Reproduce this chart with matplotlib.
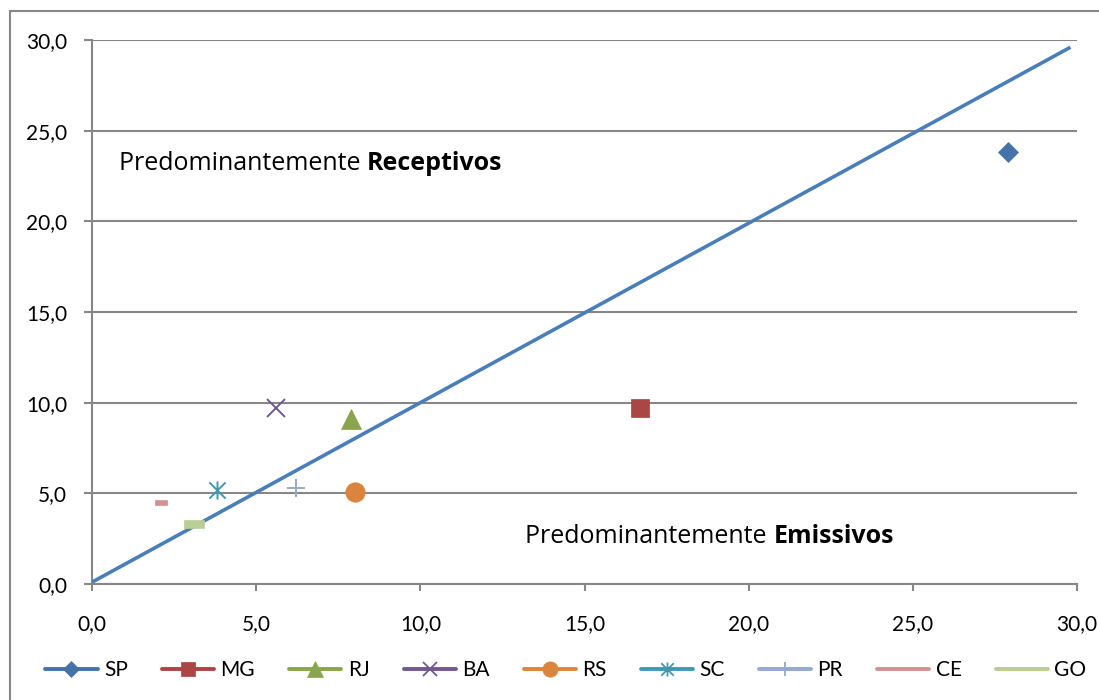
import matplotlib
matplotlib.use("Agg")
import matplotlib.pyplot as plt
from matplotlib.lines import Line2D
from matplotlib.path import Path
from matplotlib.patches import Rectangle
from matplotlib.ticker import MultipleLocator, FuncFormatter

plt.rcParams["font.family"] = ["Lato", "DejaVu Sans"]

# Estados: (x, y)
estados = ["SP", "MG", "RJ", "BA", "RS", "SC", "PR", "CE", "GO"]
x_vals = [27.9, 16.7, 7.9, 5.6, 8.0, 3.8, 6.2, 2.1, 3.1]
y_vals = [23.8, 9.7, 9.1, 9.7, 5.1, 5.2, 5.3, 4.5, 3.3]

# Linha de referencia (x = y)
linha_x = [0.0, 29.8]
linha_y = [0.1, 29.6]

cores = ["#4572A7", "#AA4643", "#89A54E", "#71588F", "#DB843D",
         "#4198AF", "#93A9CF", "#D19392", "#B9CD96"]

# asterisco: vertical + X
asterisco = Path([(0, -1), (0, 1), (-0.9, -0.9), (0.9, 0.9), (-0.9, 0.9), (0.9, -0.9)],
                 [Path.MOVETO, Path.LINETO, Path.MOVETO, Path.LINETO, Path.MOVETO, Path.LINETO])
traco = [(-1, -0.4), (1, -0.4), (1, 0.4), (-1, 0.4), (-1, -0.4)]

marcadores = ["D", "s", "^", "x", "o", asterisco, "+", traco, traco]
tamanhos = [10, 13.5, 14, 12.5, 14, 13, 12.5, 9, 15]
tam_leg = [8, 10.5, 11, 9.5, 11, 10, 9.5, 0, 0]
preenchidos = [True, True, True, False, True, False, False, True, True]

fig = plt.figure(figsize=(10.99, 7.0), dpi=100)
ax = fig.add_axes([92 / 1099, 1 - 584 / 700, (1077 - 92) / 1099, (584 - 40) / 700])

ax.plot(linha_x, linha_y, color="#4A7EBB", lw=2.6, solid_capstyle="butt", zorder=3)

handles = []
for i, nome in enumerate(estados):
    c = cores[i]
    if preenchidos[i]:
        ax.plot(x_vals[i], y_vals[i], ls="none", marker=marcadores[i], ms=tamanhos[i],
                mfc=c, mec=c, mew=0.5, zorder=4)
    else:
        ax.plot(x_vals[i], y_vals[i], ls="none", marker=marcadores[i], ms=tamanhos[i],
                color=c, mew=1.4, zorder=4)
    handles.append(Line2D([], [], color=c, lw=2.8, marker=marcadores[i] if tam_leg[i] else None,
                          ms=tam_leg[i], mfc=c, mec=c, mew=1.3 if not preenchidos[i] else 0.5,
                          solid_capstyle="round"))

ax.set_xlim(0, 30)
ax.set_ylim(0, 30)
ax.xaxis.set_major_locator(MultipleLocator(5))
ax.yaxis.set_major_locator(MultipleLocator(5))
fmt = FuncFormatter(lambda v, p: f"{v:.1f}".replace(".", ","))
ax.xaxis.set_major_formatter(fmt)
ax.yaxis.set_major_formatter(fmt)

cinza = "#878787"
ax.grid(axis="y", color=cinza, lw=1.5)
ax.set_axisbelow(True)
for s in ["top", "right"]:
    ax.spines[s].set_visible(False)
for s in ["left", "bottom"]:
    ax.spines[s].set_color(cinza)
    ax.spines[s].set_linewidth(1.5)
ax.tick_params(axis="y", length=6, width=1.5, color=cinza, labelsize=15, pad=12)
ax.tick_params(axis="x", length=5, width=1.5, color=cinza, labelsize=15, pad=17)

fonte_txt = ["Open Sans", "DejaVu Sans"]
t1 = ax.text(0.82, 23.2, "Predominantemente ", fontsize=18, va="center", family=fonte_txt)
ax.annotate("Receptivos", xy=(1, 0), xycoords=t1, va="bottom", fontsize=18,
            fontweight="bold", family=fonte_txt)
t2 = ax.text(13.2, 2.6, "Predominantemente ", fontsize=18, va="center", family=fonte_txt)
ax.annotate("Emissivos", xy=(1, 0), xycoords=t2, va="bottom", fontsize=18,
            fontweight="bold", family=fonte_txt)

fig.legend(handles, estados, loc="center", bbox_to_anchor=(566 / 1099, 1 - 670 / 700),
           ncol=9, frameon=False, fontsize=15, handlelength=2.5, handletextpad=0.3,
           columnspacing=1.65)

# moldura externa
fig.patches.append(Rectangle((9.5 / 1099, -0.05), 1.1, 1 - 11 / 700 + 0.05,
                             transform=fig.transFigure, fill=False, ec=cinza, lw=1.5))

fig.savefig("out.png", dpi=100)
